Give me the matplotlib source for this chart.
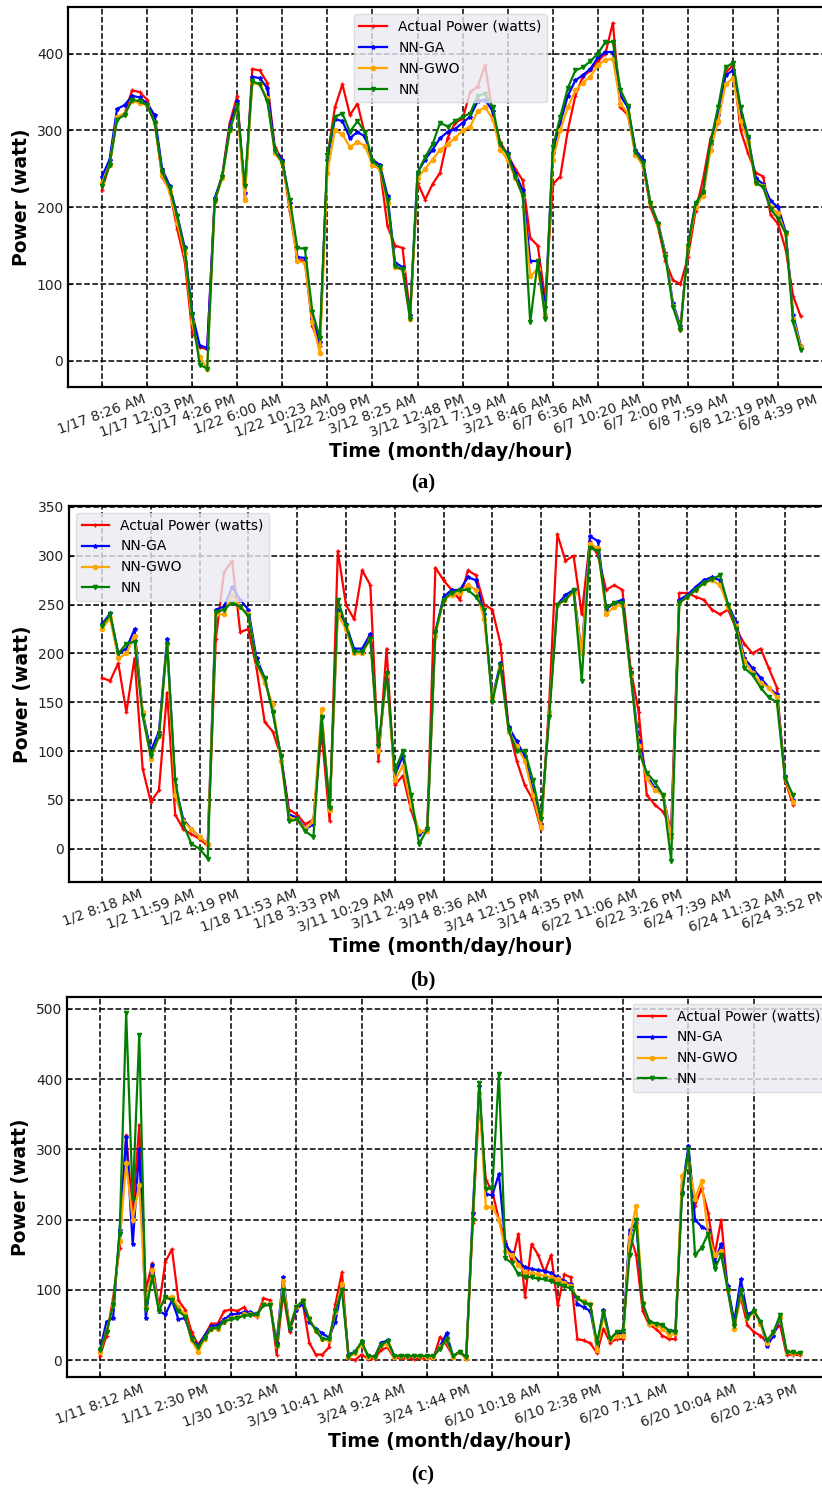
import matplotlib.pyplot as plt
import numpy as np

# ---- panel (a) ----
a_ticks = ['1/17 8:26 AM', '1/17 12:03 PM', '1/17 4:26 PM', '1/22 6:00 AM',
           '1/22 10:23 AM', '1/22 2:09 PM', '3/12 8:25 AM', '3/12 12:48 PM',
           '3/21 7:19 AM', '3/21 8:46 AM', '6/7 6:36 AM', '6/7 10:20 AM',
           '6/7 2:00 PM', '6/8 7:59 AM', '6/8 12:19 PM', '6/8 4:39 PM']
a_actual = [223, 255, 315, 322, 352, 350, 340, 312, 240, 222,
            172, 130, 38, 18, 15, 210, 242, 310, 345, 212,
            380, 378, 362, 278, 262, 195, 132, 130, 45, 20,
            265, 330, 360, 320, 335, 295, 255, 250, 175, 150,
            147, 60, 232, 210, 230, 245, 290, 310, 315, 350,
            357, 385, 322, 285, 268, 250, 235, 160, 150, 80,
            230, 240, 300, 345, 370, 378, 390, 400, 440, 330,
            320, 270, 255, 200, 175, 130, 105, 100, 135, 195,
            236, 290, 310, 375, 385, 300, 270, 245, 240, 190,
            178, 145, 84, 58]
a_ga = [240, 262, 328, 333, 345, 343, 335, 320, 250, 228,
        190, 148, 62, 20, 17, 212, 240, 305, 338, 218,
        370, 368, 355, 275, 262, 205, 135, 134, 55, 25,
        262, 315, 312, 290, 298, 292, 262, 255, 215, 128,
        122, 60, 245, 262, 275, 290, 298, 302, 310, 318,
        338, 340, 325, 280, 270, 245, 222, 130, 130, 70,
        270, 310, 345, 365, 372, 380, 395, 402, 402, 345,
        330, 275, 262, 205, 180, 140, 75, 45, 150, 205,
        218, 282, 320, 372, 378, 320, 290, 238, 230, 208,
        200, 168, 60, 20]
a_gwo = [232, 255, 318, 322, 338, 336, 333, 310, 242, 220,
         180, 140, 50, 5, -10, 208, 238, 300, 330, 210,
         362, 360, 342, 270, 258, 200, 130, 128, 50, 10,
         245, 300, 295, 278, 285, 280, 255, 250, 205, 122,
         118, 55, 238, 250, 262, 275, 282, 290, 300, 305,
         325, 330, 315, 275, 262, 238, 215, 110, 120, 60,
         262, 300, 330, 352, 362, 370, 385, 392, 393, 335,
         322, 268, 255, 205, 178, 138, 72, 42, 148, 200,
         215, 275, 312, 360, 368, 312, 285, 232, 228, 200,
         192, 165, 55, 18]
a_nn = [228, 255, 314, 320, 340, 338, 333, 310, 246, 225,
        188, 145, 60, -5, -10, 208, 240, 300, 333, 228,
        364, 360, 338, 273, 258, 210, 147, 146, 64, 30,
        268, 318, 322, 298, 312, 298, 260, 252, 210, 123,
        119, 55, 245, 265, 282, 310, 305, 312, 318, 322,
        345, 348, 330, 282, 268, 240, 215, 50, 130, 55,
        278, 318, 355, 378, 382, 390, 400, 415, 415, 353,
        332, 272, 258, 205, 178, 135, 70, 40, 150, 205,
        220, 285, 330, 382, 388, 330, 292, 232, 226, 198,
        185, 166, 50, 14]

# ---- panel (b) ----
b_ticks = ['1/2 8:18 AM', '1/2 11:59 AM', '1/2 4:19 PM', '1/18 11:53 AM',
           '1/18 3:33 PM', '3/11 10:29 AM', '3/11 2:49 PM', '3/14 8:36 AM',
           '3/14 12:15 PM', '3/14 4:35 PM', '6/22 11:06 AM', '6/22 3:26 PM',
           '6/24 7:39 AM', '6/24 11:32 AM', '6/24 3:52 PM']
b_actual = [175, 172, 190, 140, 195, 82, 48, 60, 160, 35,
            20, 15, 10, 3, 215, 283, 295, 222, 225, 185,
            130, 120, 95, 40, 35, 25, 30, 120, 28, 305,
            250, 235, 285, 270, 90, 205, 65, 75, 40, 15,
            20, 288, 275, 265, 255, 285, 280, 250, 245, 210,
            125, 90, 65, 50, 20, 150, 322, 295, 300, 240,
            315, 300, 265, 270, 265, 185, 140, 55, 45, 38,
            22, 262, 262, 258, 255, 245, 240, 245, 225, 210,
            200, 205, 185, 165, 70, 45]
b_ga = [230, 241, 200, 205, 225, 140, 100, 120, 215, 65,
        30, 20, 12, 5, 245, 248, 268, 255, 245, 195,
        175, 140, 95, 35, 32, 20, 25, 135, 42, 245,
        230, 205, 205, 220, 100, 180, 75, 95, 45, 15,
        20, 222, 258, 265, 265, 278, 275, 240, 155, 190,
        125, 110, 95, 60, 25, 140, 250, 260, 265, 200,
        320, 315, 245, 252, 255, 180, 110, 75, 62, 55,
        15, 255, 260, 268, 275, 278, 275, 250, 232, 195,
        185, 175, 165, 158, 75, 50]
b_gwo = [225, 236, 195, 200, 218, 140, 92, 115, 210, 55,
         28, 20, 12, 5, 240, 240, 260, 248, 240, 190,
         170, 148, 90, 32, 30, 20, 28, 143, 40, 240,
         225, 200, 200, 215, 100, 178, 70, 85, 45, 18,
         18, 218, 255, 260, 262, 270, 265, 235, 155, 185,
         120, 105, 90, 55, 22, 140, 250, 255, 262, 200,
         312, 308, 240, 248, 250, 178, 105, 72, 60, 55,
         12, 252, 258, 265, 272, 275, 270, 248, 228, 192,
         180, 170, 165, 155, 72, 48]
b_nn = [228, 240, 200, 210, 212, 136, 95, 115, 210, 70,
        25, 5, 0, -10, 242, 245, 252, 248, 238, 190,
        175, 140, 95, 28, 30, 18, 12, 135, 42, 255,
        228, 202, 202, 215, 105, 180, 80, 100, 55, 5,
        20, 222, 255, 262, 265, 265, 258, 245, 150, 188,
        122, 100, 100, 70, 30, 135, 250, 255, 265, 172,
        308, 305, 247, 252, 252, 180, 100, 78, 68, 55,
        -12, 252, 258, 265, 272, 276, 280, 250, 225, 185,
        178, 165, 155, 150, 72, 55]

# ---- panel (c) ----
c_ticks = ['1/11 8:12 AM', '1/11 2:30 PM', '1/30 10:32 AM', '3/19 10:41 AM',
           '3/24 9:24 AM', '3/24 1:44 PM', '6/10 10:18 AM', '6/10 2:38 PM',
           '6/20 7:11 AM', '6/20 10:04 AM', '6/20 2:43 PM']
c_actual = [6, 35, 88, 160, 320, 210, 335, 100, 138, 75,
            140, 158, 85, 72, 40, 22, 35, 52, 52, 70,
            72, 70, 75, 65, 62, 88, 85, 8, 95, 40,
            72, 82, 25, 8, 8, 18, 80, 125, 3, 0,
            8, 2, 2, 15, 18, 3, 3, 3, 2, 3,
            2, 3, 33, 22, 5, 12, 2, 195, 370, 257,
            240, 200, 170, 140, 180, 90, 165, 150, 125, 150,
            78, 122, 118, 30, 28, 24, 10, 45, 25, 30,
            30, 180, 150, 70, 50, 45, 35, 30, 30, 250,
            290, 220, 245, 210, 150, 200, 100, 50, 90, 50,
            40, 35, 25, 40, 50, 8, 8, 7]
c_ga = [15, 55, 60, 185, 318, 165, 300, 60, 135, 70,
        65, 85, 58, 60, 32, 20, 35, 48, 50, 58,
        65, 66, 68, 68, 65, 80, 80, 25, 118, 45,
        72, 80, 55, 45, 38, 32, 55, 105, 8, 12,
        24, 6, 5, 25, 28, 6, 6, 6, 5, 6,
        5, 5, 20, 38, 5, 12, 4, 210, 390, 236,
        235, 265, 165, 152, 140, 132, 130, 128, 127, 124,
        118, 112, 108, 80, 75, 70, 20, 72, 30, 38,
        38, 185, 195, 80, 55, 52, 50, 42, 42, 240,
        305, 200, 190, 185, 140, 165, 105, 55, 115, 65,
        70, 55, 20, 35, 60, 12, 10, 10]
c_gwo = [12, 42, 78, 170, 280, 200, 250, 75, 128, 72,
         90, 90, 75, 65, 28, 12, 30, 45, 45, 55,
         60, 62, 65, 65, 64, 80, 80, 20, 112, 48,
         75, 85, 60, 42, 30, 28, 68, 108, 5, 10,
         22, 5, 5, 22, 22, 5, 6, 6, 6, 6,
         5, 5, 18, 28, 5, 12, 3, 200, 380, 218,
         218, 200, 155, 150, 135, 125, 124, 122, 120, 118,
         115, 110, 106, 88, 84, 80, 15, 62, 30, 35,
         35, 175, 220, 82, 52, 50, 45, 36, 38, 262,
         280, 230, 255, 180, 150, 155, 100, 45, 95, 60,
         68, 52, 25, 40, 62, 12, 10, 10]
c_nn = [15, 40, 78, 180, 494, 230, 463, 72, 118, 70,
        90, 85, 70, 62, 30, 18, 32, 45, 46, 55,
        58, 60, 63, 64, 65, 78, 78, 20, 100, 45,
        76, 84, 58, 42, 30, 30, 70, 100, 5, 12,
        26, 6, 5, 22, 27, 6, 6, 6, 6, 6,
        6, 6, 16, 30, 6, 12, 4, 200, 395, 243,
        245, 408, 145, 138, 122, 119, 118, 116, 115, 112,
        108, 105, 102, 88, 82, 78, 25, 68, 30, 40,
        42, 150, 200, 80, 55, 52, 50, 42, 40, 235,
        300, 150, 160, 180, 130, 150, 100, 48, 100, 60,
        70, 55, 28, 40, 64, 12, 11, 10]

labels = ['Actual Power (watts)', 'NN-GA', 'NN-GWO', 'NN']
colors = ['red', 'blue', 'orange', 'green']
markers = ['+', '*', 'o', 'v']

W, H = 822, 1488
fig = plt.figure(figsize=(W / 100, H / 100), dpi=100)


def draw_panel(rect, series, ticks, step, ylim, yticks, xlim, loc, caption, cap_y):
    left, top, right, bottom = rect
    ax = fig.add_axes([left / W, 1 - bottom / H, (right - left) / W, (bottom - top) / H])
    x = np.arange(len(series[0]))
    for vals, lab, col, mk in zip(series, labels, colors, markers):
        ax.plot(x, vals, color=col, marker=mk, markersize=3, linewidth=1.6, label=lab)
    ax.set_xlim(*xlim)
    ax.set_ylim(*ylim)
    ax.set_xticks(np.arange(len(ticks)) * step)
    ax.set_xticklabels(ticks, rotation=20, fontsize=10, color='#222222')
    ax.set_yticks(yticks)
    ax.set_yticklabels([str(v) for v in yticks], fontsize=10, color='#222222')
    ax.tick_params(direction='in', length=3, width=0.8)
    ax.grid(True, color='black', linestyle='--', linewidth=1.1)
    for s in ax.spines.values():
        s.set_linewidth(1.6)
    ax.set_xlabel('Time (month/day/hour)', fontsize=13.5, fontweight='bold', labelpad=2)
    ax.set_ylabel('Power (watt)', fontsize=13.5, fontweight='bold')
    leg = ax.legend(loc=loc, fontsize=10, facecolor='#EAEAF2', edgecolor='#d8d8d8',
                    framealpha=0.8, fancybox=True)
    fig.text(0.5 * (68 + 778) / W, 1 - cap_y / H, caption, ha='center', va='center',
             fontsize=15, family='Liberation Serif', fontweight='bold')
    return ax


draw_panel((68, 7.5, 833, 387), [a_actual, a_ga, a_gwo, a_nn], a_ticks, 6,
           (-34, 460), [0, 100, 200, 300, 400], (-4.53, 97.3), 'upper center', '(a)', 483)
draw_panel((69, 506, 833, 882), [b_actual, b_ga, b_gwo, b_nn], b_ticks, 6,
           (-34, 351), [0, 50, 100, 150, 200, 250, 300, 350], (-4.06, 89.9), 'upper left', '(b)', 980)
draw_panel((67, 997, 833, 1377), [c_actual, c_ga, c_gwo, c_nn], c_ticks, 10,
           (-24, 517), [0, 100, 200, 300, 400, 500], (-5.05, 112.1), 'upper right', '(c)', 1475)

fig.savefig('out.png', dpi=100)
